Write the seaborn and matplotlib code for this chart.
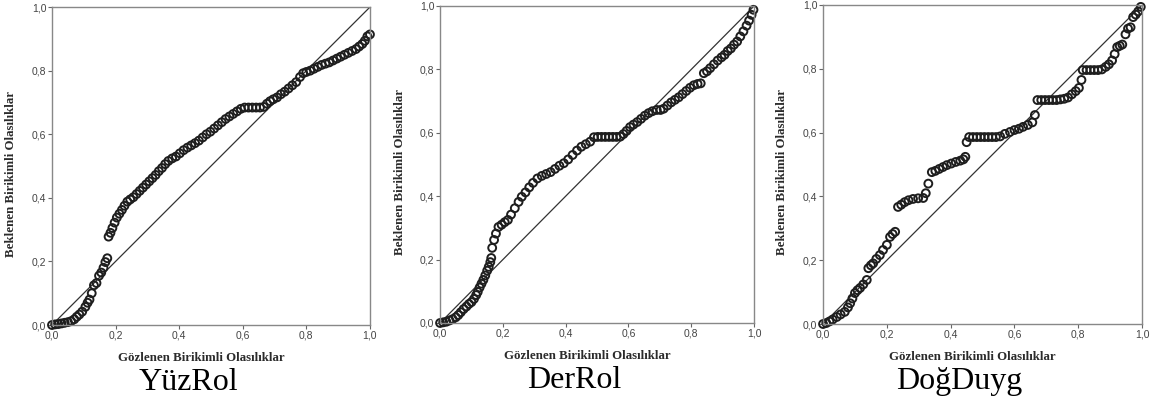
import matplotlib
matplotlib.use("Agg")
import matplotlib.pyplot as plt
import numpy as np
import pandas as pd
import seaborn as sns

# P-P plot data: observed cumulative prob (x) vs expected cumulative prob (y)
yuzrol_obs = [0.000, 0.010, 0.020, 0.030, 0.040, 0.050, 0.060, 0.070, 0.078, 0.086,
              0.095, 0.105, 0.112, 0.118, 0.125, 0.132, 0.140, 0.148, 0.155, 0.162,
              0.168, 0.174, 0.178, 0.184, 0.190, 0.197, 0.204, 0.212, 0.220, 0.228,
              0.237, 0.246, 0.256, 0.266, 0.276, 0.286, 0.296, 0.306, 0.316, 0.326,
              0.336, 0.346, 0.356, 0.366, 0.378, 0.390, 0.402, 0.414, 0.426, 0.438,
              0.450, 0.462, 0.474, 0.486, 0.498, 0.510, 0.522, 0.534, 0.546, 0.558,
              0.570, 0.582, 0.594, 0.606, 0.618, 0.630, 0.642, 0.654, 0.666, 0.676,
              0.686, 0.696, 0.708, 0.720, 0.732, 0.744, 0.756, 0.768, 0.780, 0.790,
              0.800, 0.812, 0.824, 0.836, 0.848, 0.860, 0.872, 0.884, 0.896, 0.908,
              0.920, 0.932, 0.944, 0.956, 0.966, 0.976, 0.984, 0.992, 1.000]
yuzrol_exp = [0.000, 0.002, 0.003, 0.005, 0.007, 0.009, 0.012, 0.018, 0.026, 0.033,
              0.042, 0.057, 0.070, 0.080, 0.100, 0.125, 0.132, 0.155, 0.165, 0.180,
              0.198, 0.210, 0.278, 0.290, 0.305, 0.322, 0.338, 0.350, 0.362, 0.375,
              0.388, 0.395, 0.402, 0.412, 0.422, 0.432, 0.442, 0.452, 0.462, 0.472,
              0.484, 0.494, 0.506, 0.516, 0.524, 0.530, 0.540, 0.550, 0.558, 0.565,
              0.572, 0.580, 0.590, 0.600, 0.608, 0.618, 0.628, 0.638, 0.648, 0.656,
              0.664, 0.672, 0.680, 0.684, 0.684, 0.684, 0.684, 0.684, 0.686, 0.696,
              0.704, 0.710, 0.716, 0.726, 0.734, 0.744, 0.754, 0.764, 0.780, 0.792,
              0.796, 0.800, 0.806, 0.812, 0.818, 0.822, 0.826, 0.832, 0.838, 0.844,
              0.850, 0.856, 0.862, 0.868, 0.876, 0.884, 0.894, 0.908, 0.914]

derrol_obs = [0.000, 0.010, 0.020, 0.030, 0.040, 0.050, 0.058, 0.066, 0.075, 0.084,
              0.092, 0.100, 0.108, 0.115, 0.120, 0.126, 0.132, 0.138, 0.144, 0.150,
              0.155, 0.160, 0.163, 0.166, 0.172, 0.178, 0.186, 0.196, 0.206, 0.216,
              0.226, 0.238, 0.250, 0.260, 0.272, 0.284, 0.296, 0.310, 0.324, 0.338,
              0.352, 0.366, 0.380, 0.394, 0.408, 0.422, 0.436, 0.450, 0.464, 0.478,
              0.490, 0.502, 0.514, 0.526, 0.538, 0.550, 0.562, 0.574, 0.584, 0.594,
              0.605, 0.616, 0.628, 0.640, 0.652, 0.664, 0.676, 0.690, 0.702, 0.712,
              0.724, 0.736, 0.748, 0.760, 0.772, 0.784, 0.796, 0.808, 0.820, 0.830,
              0.840, 0.850, 0.860, 0.872, 0.884, 0.896, 0.906, 0.916, 0.926, 0.936,
              0.946, 0.956, 0.966, 0.976, 0.984, 0.992, 0.998]
derrol_exp = [0.000, 0.002, 0.004, 0.008, 0.012, 0.018, 0.025, 0.034, 0.044, 0.052,
              0.060, 0.066, 0.076, 0.088, 0.098, 0.112, 0.124, 0.136, 0.150, 0.165,
              0.177, 0.192, 0.205, 0.237, 0.262, 0.282, 0.303, 0.310, 0.318, 0.325,
              0.342, 0.362, 0.382, 0.398, 0.412, 0.428, 0.442, 0.456, 0.464, 0.470,
              0.476, 0.486, 0.496, 0.504, 0.516, 0.530, 0.544, 0.556, 0.564, 0.572,
              0.586, 0.587, 0.587, 0.587, 0.587, 0.587, 0.587, 0.588, 0.596, 0.606,
              0.618, 0.626, 0.634, 0.644, 0.654, 0.662, 0.668, 0.672, 0.672, 0.676,
              0.686, 0.696, 0.704, 0.712, 0.722, 0.732, 0.742, 0.750, 0.754, 0.756,
              0.788, 0.794, 0.804, 0.816, 0.828, 0.838, 0.846, 0.858, 0.866, 0.878,
              0.888, 0.904, 0.920, 0.938, 0.954, 0.972, 0.988]

dogduyg_obs = [0.000, 0.010, 0.020, 0.030, 0.043, 0.055, 0.068, 0.078, 0.085, 0.092,
               0.100, 0.108, 0.116, 0.126, 0.137, 0.142, 0.150, 0.157, 0.167, 0.178,
               0.188, 0.200, 0.210, 0.218, 0.226, 0.235, 0.245, 0.256, 0.268, 0.282,
               0.298, 0.314, 0.322, 0.330, 0.341, 0.352, 0.364, 0.376, 0.388, 0.402,
               0.416, 0.430, 0.440, 0.446, 0.450, 0.458, 0.470, 0.482, 0.494, 0.506,
               0.518, 0.530, 0.542, 0.555, 0.570, 0.586, 0.600, 0.614, 0.627, 0.642,
               0.656, 0.664, 0.672, 0.684, 0.696, 0.708, 0.720, 0.732, 0.744, 0.756,
               0.768, 0.780, 0.792, 0.802, 0.810, 0.814, 0.826, 0.838, 0.850, 0.862,
               0.874, 0.886, 0.896, 0.906, 0.914, 0.922, 0.930, 0.938, 0.948, 0.956,
               0.964, 0.972, 0.980, 0.988, 0.996]
dogduyg_exp = [0.000, 0.003, 0.008, 0.014, 0.022, 0.030, 0.038, 0.052, 0.065, 0.080,
               0.097, 0.106, 0.113, 0.124, 0.138, 0.175, 0.184, 0.190, 0.204, 0.216,
               0.232, 0.248, 0.273, 0.282, 0.289, 0.367, 0.374, 0.382, 0.388, 0.392,
               0.394, 0.395, 0.410, 0.440, 0.476, 0.480, 0.486, 0.492, 0.498, 0.503,
               0.508, 0.512, 0.516, 0.524, 0.570, 0.586, 0.586, 0.586, 0.586, 0.586,
               0.586, 0.586, 0.586, 0.588, 0.596, 0.602, 0.608, 0.612, 0.618, 0.624,
               0.632, 0.655, 0.702, 0.702, 0.702, 0.702, 0.702, 0.702, 0.704, 0.706,
               0.710, 0.720, 0.730, 0.740, 0.765, 0.796, 0.796, 0.796, 0.796, 0.796,
               0.798, 0.806, 0.814, 0.826, 0.846, 0.868, 0.872, 0.876, 0.908, 0.926,
               0.930, 0.962, 0.970, 0.980, 0.994]

captions = ["YüzRol", "DerRol", "DoğDuyg"]
ticks = [0.0, 0.2, 0.4, 0.6, 0.8, 1.0]
tick_labels = ["0,0", "0,2", "0,4", "0,6", "0,8", "1,0"]

sns.set_style("white")
plt.rcParams["font.family"] = ["Liberation Sans", "DejaVu Sans"]

fig = plt.figure(figsize=(11.55, 4.05), dpi=100)
# axes boxes in figure fraction
boxes = [[0.0450, 0.1975, 0.2753, 0.785],
         [0.3810, 0.2025, 0.2719, 0.7827],
         [0.7126, 0.2000, 0.2762, 0.7877]]
series = [(yuzrol_obs, yuzrol_exp), (derrol_obs, derrol_exp), (dogduyg_obs, dogduyg_exp)]

for box, (obs, exp), cap in zip(boxes, series, captions):
    ax = fig.add_axes(box)
    df = pd.DataFrame({"obs": obs, "exp": exp})
    ax.plot([0, 1], [0, 1], color="#333333", lw=0.9, zorder=1)
    sns.scatterplot(data=df, x="obs", y="exp", ax=ax, marker="o", s=32,
                    facecolors="none", edgecolor="#1e1e1e", linewidth=1.4,
                    zorder=2, clip_on=False)
    ax.set_xlim(0, 1)
    ax.set_ylim(0, 1)
    ax.set_xticks(ticks)
    ax.set_xticklabels(tick_labels)
    ax.set_yticks(ticks)
    ax.set_yticklabels(tick_labels)
    ax.tick_params(direction="out", length=3, width=0.8, color="#666666",
                   labelsize=7.5, labelcolor="#444444", pad=1,
                   bottom=True, left=True)
    for sp in ax.spines.values():
        sp.set_color("#888888")
        sp.set_linewidth(1.0)
    ax.set_xlabel("Gözlenen Birikimli Olasılıklar", family="Liberation Serif",
                  fontweight="bold", fontsize=9.3, color="#2b2b2b")
    ax.set_ylabel("Beklenen Birikimli Olasılıklar", family="Liberation Serif",
                  fontweight="bold", fontsize=9.3, color="#2b2b2b")
    ax.xaxis.set_label_coords(0.469, -0.085)
    ax.yaxis.set_label_coords(-0.11, 0.475)
    ax.text(0.428, -0.18, cap, transform=ax.transAxes, ha="center", va="center",
            family="Liberation Serif", fontsize=23, color="black")

fig.savefig("out.png", dpi=100)
